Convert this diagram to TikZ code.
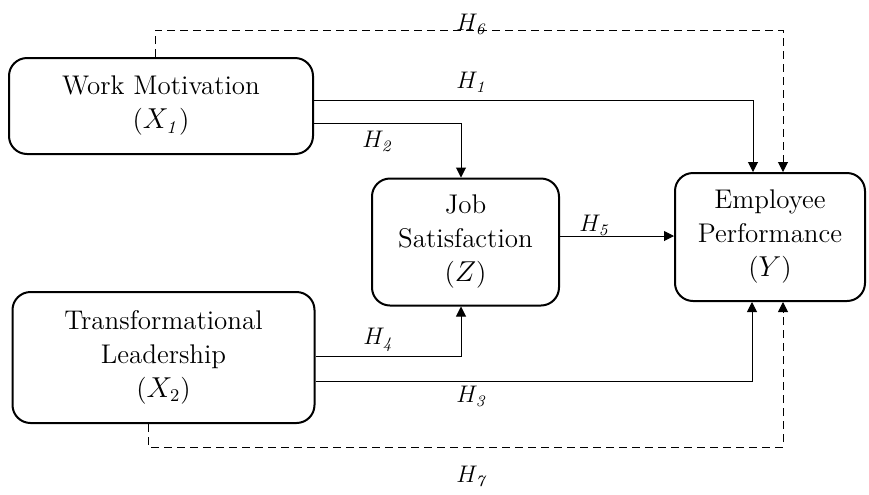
\documentclass[tikz,border=0pt]{standalone}
\usetikzlibrary{arrows.meta, positioning}
\newcommand{\hyp}[1]{$H_{\mathit{#1}}$}
\begin{document}
\begin{tikzpicture}[x=0.5pt, y=-0.5pt, >={Triangle[length=5pt,width=5pt]},
		var/.style={rectangle, rounded corners=9pt, draw=black, line width=1pt, align=center,
			font=\fontsize{13.5}{17}\selectfont, inner sep=0pt},
		link/.style={draw=black, line width=0.5pt},
		dlink/.style={link, dash pattern=on 4pt off 2.5pt},
		hlabel/.style={font=\fontsize{11.5}{13}\selectfont, inner sep=1pt}]
		
		\useasboundingbox (0,0) rectangle (869,494);
		
		% Variabel
		\node[var, minimum width=152pt, minimum height=48pt] (wm) at (161,106) {Work Motivation\\($X_{\mathit{1}}$)};
		\node[var, minimum width=151pt, minimum height=65.5pt] (tl) at (163.5,357.5) {Transformational\\Leadership\\($X_2$)};
		\node[var, minimum width=93.5pt, minimum height=63.5pt] (js) at (465.5,242) {Job\\Satisfaction\\($Z$)};
		\node[var, minimum width=95pt, minimum height=64pt] (ep) at (770,237) {Employee\\Performance\\($Y$)};
		
		% Titik belok
		\coordinate (h1e) at (753,100);
		\coordinate (h2e) at (461,123);
		\coordinate (h4e) at (461,356);
		\coordinate (h3e) at (752,381);
		\coordinate (h5e) at (600,236);
		\coordinate (h6a) at (155,30);
		\coordinate (h6b) at (783,30);
		\coordinate (h7a) at (148,447);
		\coordinate (h7b) at (783,447);
		
		% Jalur langsung
		\draw[link, ->] (wm.east |- h1e) -- (h1e) -- (h1e |- ep.north);
		\draw[link, ->] (wm.east |- h2e) -- (h2e) -- (h2e |- js.north);
		\draw[link, ->] (tl.east |- h4e) -- (h4e) -- (h4e |- js.south);
		\draw[link, ->] (tl.east |- h3e) -- (h3e) -- (h3e |- ep.south);
		\draw[link, ->] (js.east |- h5e) -- (ep.west |- h5e);
		
		% Jalur tidak langsung
		\draw[dlink, ->] (h6a |- wm.north) -- (h6a) -- (h6b) -- (h6b |- ep.north);
		\draw[dlink, ->] (h7a |- tl.south) -- (h7a) -- (h7b) -- (h7b |- ep.south);
		
		% Label hipotesis
		\node[hlabel] (l1) at (472,82) {\hyp{1}};
		\node[hlabel] (l2) at (378,141) {\hyp{2}};
		\node[hlabel] (l3) at (472,396) {\hyp{3}};
		\node[hlabel] (l4) at (379,340) {\hyp{4}};
		\node[hlabel] (l5) at (595,225) {\hyp{5}};
		\node[hlabel] (l6) at (472,24) {\hyp{6}};
		\node[hlabel] (l7) at (472,478) {\hyp{7}};
	\end{tikzpicture}
\end{document}
